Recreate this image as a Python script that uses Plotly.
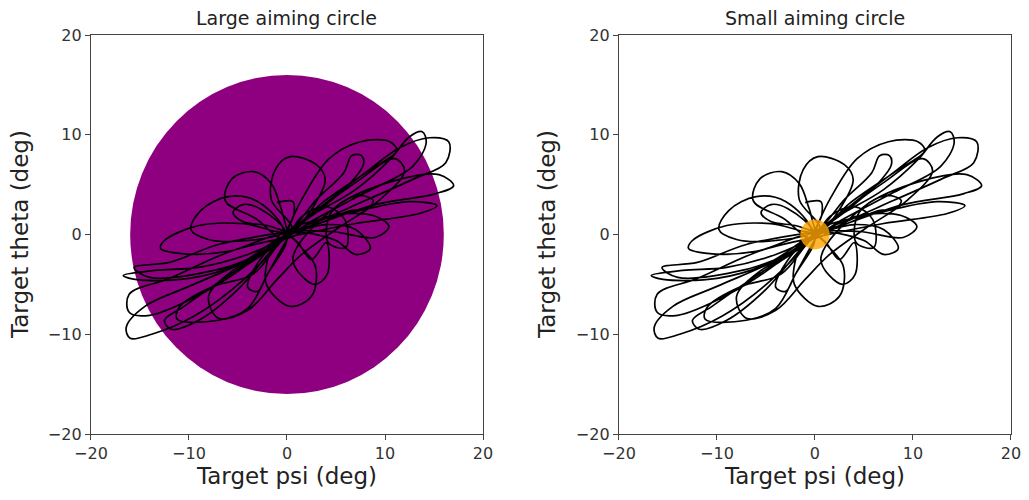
import plotly.graph_objects as go

# Trajectory (target psi, target theta) in degrees
psi = [-1.0, 0.6, 0.7, 0.2,
       3, 7, 10.5, 12.5, 13.8, 14.2, 12.8, 8, 3, 0,
       -4, -9, -13.5, -16.7, -15.5, -10, -5, -1.5, 0.5,
       -1.6, -1.2, 0.3, 3.0, 3.9, 2.5, 0.6,
       -3, -7, -10.5, -12.5, -11.8, -9, -5, -1.5, 0.4,
       4, 8, 11.5, 14.5, 16.5, 16.2, 13, 8, 3, -0.3,
       -3.2, -6.3, -5.6, -3.4, -1.6, -0.6, 0.2,
       1.2, 2.5, 4.0, 4.1, 2.8, 0.6,
       5, 11, 15.5, 17.0, 15.2, 9, 3, -0.2,
       -4, -10, -14.5, -16.4, -16.0, -13.8, -9.5, -4.5, -0.6,
       1.5, 4.3, 7.5, 10.5, 11.2, 8.5, 3.5, 0.3,
       -4.5, -9, -12.5, -12.9, -11, -6, -1,
       -1.9, -2.1, 0.3, 2.5, 2.9, 1.2, 0.2,
       7, 12.5, 15.3, 13.5, 7, 0.4,
       -5.5, -12, -16.1, -16.1, -14, -9, -4, -0.3,
       -3, -6, -8.8, -9.8, -8, -4, 0.2,
       3, 5.8, 6.6, 7.6, 7.8, 6.5, 3.5, 0.5,
       4.5, 8.8, 10.4, 9.0, 4.5, 0.3,
       -3.5, -7.5, -11, -11.2, -7, -4, -2, 0,
       -2.8, -4.5, -5.5, -4.5, -2, 0.3,
       4, 7, 8.5, 7, 5, 1.5, 0,
       -2.8, -4, -3, -2, 0,
       1.5, 4.0, 5.9, 6.0, 4.2, 4.5, 7.2, 8.8, 8.2, 6.5, 3.0, 0.5,
       -7, -12, -15.6, -14, -7, -2.5,
       -5.5, -8.0, -7.0, -4.0, -1.0, 1.5, 5.0, 9.5, 12.0, 11.0, 7.0, 2.0, -0.5]
theta = [3.2, 3.3, 2.0, 0.5,
         2.2, 4.5, 7.5, 9.8, 10.3, 9.2, 6.8, 4.2, 1.6, -0.2,
         -2.0, -3.3, -3.6, -4.1, -4.5, -4.4, -3.0, -0.8, 0.6,
         3.5, 6.5, 7.8, 7.0, 5.5, 2.5, 0.2,
         -2.2, -4.8, -7.2, -8.6, -9.5, -8.6, -5.5, -1.5, 0.4,
         3.2, 6.2, 8.7, 9.7, 9.3, 7.2, 5.6, 3.4, 1.2, -0.4,
         1.6, 3.4, 5.6, 6.3, 5.1, 2.6, 0.1,
         -0.9, -2.5, -0.8, -4.0, -5.0, -2.5,
         2.8, 5.4, 6.0, 4.9, 4.1, 3.0, 1.0, -0.3,
         -2.6, -5.2, -7.2, -9.3, -10.4, -10.0, -8.2, -4.6, -0.5,
         3.5, 7.6, 9.3, 9.3, 8.4, 6.5, 3.1, 0.3,
         1.1, 0.9, -0.6, -1.4, -1.9, -1.7, -0.2,
         -2.2, -5.0, -7.2, -6.2, -3.2, -1.0, 0.3,
         2.3, 3.3, 2.9, 2.1, 1.1, -0.2,
         -1.6, -4.4, -6.0, -7.8, -8.1, -6.1, -3.0, 0.1,
         3.3, 3.8, 2.4, 0.5, -0.5, -0.6, 0.4,
         3.5, 6.2, 7.9, 7.9, 7.0, 5.2, 2.6, 0.3,
         1.9, 1.9, 0.8, -0.3, 0.3, 0.0,
         -4, -5.2, -7.3, -8.5, -8.6, -7.4, -4, -0.1,
         2.6, 3.0, 2.2, 1.3, 0.9, 0.3,
         1.0, 0.5, -1.4, -2.0, -0.6, 0.2, 0.0,
         -2.6, -5.3, -5.7, -4, -0.5,
         1.8, 2.8, 1.5, -1.3, -0.8, 2.2, 3.9, 3.4, 2.6, 2.4, 1.0, 0.4,
         -1.0, -2.8, -3.3, -4.3, -3.5, -2.0,
         -3.6, -6.2, -8.4, -7.6, -4.5, -2.0, 0.5, 3.5, 6.4, 7.6, 5.2, 1.6, -0.3]

large_radius = 16.0
small_radius = 1.5
tick_vals = [-20, -10, 0, 10, 20]
tick_text = ["\u221220", "\u221210", "0", "10", "20"]
titles = ["Large aiming circle", "Small aiming circle"]

fig = go.Figure()
for i, ax in enumerate(["", "2"]):
    fig.add_trace(go.Scatter(x=psi, y=theta, mode="lines",
                             line=dict(color="black", width=1.7, shape="spline", smoothing=1.0),
                             xaxis="x" + ax, yaxis="y" + ax, showlegend=False, hoverinfo="skip"))

fig.add_shape(type="circle", xref="x", yref="y",
              x0=-large_radius, y0=-large_radius, x1=large_radius, y1=large_radius,
              fillcolor="#8f0080", line=dict(width=0), layer="below")
fig.add_shape(type="circle", xref="x2", yref="y2",
              x0=-small_radius, y0=-small_radius, x1=small_radius, y1=small_radius,
              fillcolor="#ffa500", opacity=0.8, line=dict(width=0), layer="above")

axis_common = dict(range=[-20, 20], tickvals=tick_vals, ticktext=tick_text,
                   ticks="outside", ticklen=5, tickwidth=1.3, tickcolor="#444",
                   showline=True, linecolor="#444", linewidth=1.3, mirror=True,
                   showgrid=False, zeroline=False, automargin=False,
                   tickfont=dict(family="DejaVu Sans", size=16, color="#333"))

ydom = [0.132, 0.93]
fig.update_layout(
    width=1029, height=500,
    margin=dict(l=0, r=0, t=0, b=0),
    paper_bgcolor="white", plot_bgcolor="white",
    xaxis=dict(domain=[0.0884, 0.4694], anchor="y", **axis_common),
    yaxis=dict(domain=ydom, anchor="x", **axis_common),
    xaxis2=dict(domain=[0.6015, 0.9825], anchor="y2", **axis_common),
    yaxis2=dict(domain=ydom, anchor="x2", **axis_common),
)

anns = []
for i, (x0, x1) in enumerate([(0.0884, 0.4694), (0.6015, 0.9825)]):
    xc = (x0 + x1) / 2
    anns.append(dict(text=titles[i], x=xc, y=(500 - 18) / 500, xref="paper", yref="paper",
                     showarrow=False, xanchor="center", yanchor="middle",
                     font=dict(family="DejaVu Sans", size=19, color="#222")))
    anns.append(dict(text="Target psi (deg)", x=xc, y=(500 - 476) / 500, xref="paper", yref="paper",
                     showarrow=False, xanchor="center", yanchor="middle",
                     font=dict(family="DejaVu Sans", size=23, color="#222")))
    ytx = 20 if i == 0 else 547
    anns.append(dict(text="Target theta (deg)", x=ytx / 1029, y=(500 - 235) / 500,
                     xref="paper", yref="paper", textangle=-90,
                     showarrow=False, xanchor="center", yanchor="middle",
                     font=dict(family="DejaVu Sans", size=23, color="#222")))
fig.update_layout(annotations=anns)

fig.write_html("out.html")
